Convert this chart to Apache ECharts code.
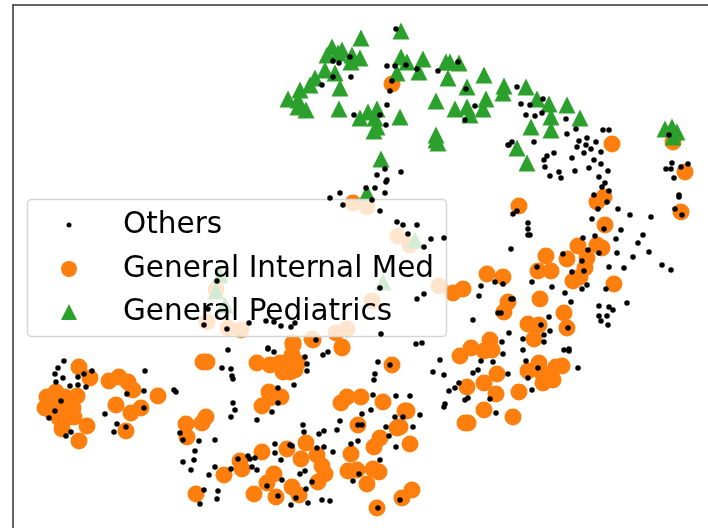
<!DOCTYPE html>
<html>
<head>
<meta charset="utf-8">
<script src="https://cdn.jsdelivr.net/npm/echarts@6/dist/echarts.min.js"></script>
<style>
html, body { margin: 0; padding: 0; background: #fff; }
#chart { width: 708px; height: 528px; }
</style>
</head>
<body>
<div id="chart"></div>
<script>
// values, no tick labels there so units are just embedding x / y
let othersName = 'Others';
let internalName = 'General Internal Med';
let pediatricsName = 'General Pediatrics';

let othersPoints = [
    [64,361],[58,368],[55,374],[63,378],[78,377],[84,374],[92,371],[56,382],[70,386],[78,385],[86,387],[145,371],
    [127,394],[144,391],[174,390],[176,392],[61,401],[55,411],[49,418],[144,408],[105,414],[117,424],[126,427],
    [114,432],[71,432],[66,436],[228,350],[222,368],[231,369],[232,376],[233,379],[233,403],[235,410],[231,417],
    [180,433],[183,440],[199,441],[215,440],[195,451],[194,460],[183,462],[191,470],[209,475],[215,467],[231,469],
    [238,459],[204,490],[218,491],[217,499],[200,504],
    [268,349],[274,352],[305,357],[307,364],[307,371],[323,355],[328,352],[294,385],[278,388],[278,403],[272,412],
    [257,420],[378,362],[390,365],[375,374],[374,380],[373,395],[396,396],[410,396],[371,410],[362,414],[340,421],
    [337,430],[324,431],[319,434],[303,425],[304,432],[358,425],[362,425],[386,427],[395,417],[403,417],[389,436],
    [396,447],[358,441],[351,444],[324,447],[317,448],[333,452],[290,445],[292,446],[275,444],[275,453],[281,460],
    [248,456],[250,459],[255,458],[252,467],[257,470],[305,471],[300,474],[282,480],[312,482],[306,489],[267,486],
    [278,496],[296,498],[291,505],[308,503],[322,500],[330,501],[359,474],[353,481],[380,460],[378,508],[400,500],
    [607,202],[598,209],[618,209],[630,215],[651,217],[675,209],[682,215],[592,219],[604,229],[517,211],[513,214],
    [528,223],[528,229],[528,235],[530,235],[621,230],[643,235],[595,236],[583,238],[616,239],[638,243],[588,250],
    [599,253],[617,253],[649,252],[633,257],[563,254],[582,261],[609,267],[624,268],[662,265],[671,270],[537,267],
    [584,271],[572,272],[511,249],[532,282],[552,287],[587,285],[582,289],[606,289],[565,293],[495,282],[503,284],
    [481,286],[479,296],[424,294],[417,299],[513,299],[511,299],[571,302],[599,306],[609,307],[613,310],[627,303],
    [599,316],[607,316],[601,321],[608,325],[498,313],[501,313],[473,320],[549,317],[541,325],[568,328],[550,331],
    [544,335],[509,333],[523,339],[544,342],[502,342],[416,344],[422,343],[523,350],[564,350],[569,349],[569,351],
    [503,354],[440,360],[481,361],[493,362],[526,361],[478,370],[473,373],[433,372],[444,375],[508,374],[538,368],
    [578,368],[528,378],[459,383],[455,388],[449,391],[532,390],[490,399],[468,398],[465,400],[445,404],[444,407],
    [496,413],[420,415],[413,427],[408,234],[403,225],[417,225],[431,239],[444,238],[424,247],
    [396,29],[333,61],[339,63],[350,57],[387,66],[395,66],[406,65],[417,69],[438,71],[458,62],[333,77],[351,77],
    [322,85],[392,81],[390,91],[466,89],[387,105],[475,106],[465,120],[354,115],[380,115],[386,125],[508,145],
    [385,169],[401,172],[377,175],[387,180],[386,182],[366,188],[375,188],[385,193],[340,193],[330,198],[372,200],
    [517,87],[521,104],[530,105],[543,99],[542,113],[526,115],[535,116],[566,119],[576,129],[567,134],[603,130],
    [609,130],[587,138],[579,141],[596,142],[586,145],[577,147],[591,149],[601,152],[584,153],[534,142],[512,142],
    [509,145],[554,153],[547,156],[544,160],[572,158],[594,160],[601,164],[545,167],[589,168],[575,171],[608,171],
    [559,172],[550,176],[561,178],[599,177],[605,183],[602,187],[609,191],[594,195],[669,135],[672,163],[666,169],
    [671,169],[681,167],[688,164],[674,178],[679,195],[679,197],
    [343,205],[380,211],[397,222],[217,281],[380,288],[208,309],[204,325],[227,329],[249,323],[266,321],[274,322],
    [281,326],[291,327],[295,323],[381,334],[316,340],[268,348]
];

let internalPoints = [
    [79,367],[90,378],[109,381],[119,377],[128,382],[133,390],[158,396],[116,405],[131,413],[141,408],[126,431],
    [87,426],[79,441],[62,429],[47,397],[56,392],[65,397],[77,396],[45,408],[55,405],[67,410],[73,408],[59,418],
    [74,417],[50,400],[60,400],[62,407],[52,412],[66,418],[207,362],[203,362],[186,424],[187,437],[206,417],[202,423],[224,475],[196,494],
    [257,363],[270,365],[280,363],[293,345],[292,355],[290,365],[283,372],[290,372],[295,370],[298,363],[342,348],[313,340],
    [392,365],[269,392],[281,397],[270,398],[262,406],[347,397],[341,403],[361,397],[383,402],[405,411],[358,425],
    [397,428],[380,438],[374,447],[351,454],[348,471],[357,470],[373,469],[379,472],[367,484],[377,508],[402,498],
    [412,490],[306,443],[287,449],[301,459],[317,455],[322,466],[325,474],[318,482],[262,452],[240,461],[242,469],
    [274,474],[267,483],[254,494],[276,497],[292,487],[299,495],[410,444],
    [519,206],[597,202],[605,225],[578,246],[597,245],[602,248],[587,258],[585,268],[580,277],[573,281],[567,259],
    [546,256],[538,271],[551,271],[487,274],[503,277],[463,289],[453,293],[614,284],[540,299],[508,302],[504,312],
    [564,313],[567,328],[528,324],[539,325],[534,339],[490,340],[471,348],[484,351],[492,350],[460,356],[539,363],
    [528,371],[562,366],[556,367],[542,373],[553,380],[543,383],[497,374],[484,383],[467,387],[496,394],[519,392],
    [484,410],[513,417],[468,423],[465,423],[407,411],[400,427],[681,212],
    [392,84],[612,144],[673,142],[685,172],[604,197],[353,203],[367,207],[398,236],[410,245],[439,286],[216,290],
    [372,301],[207,322],[228,328],[241,330],[336,333],[347,329],[293,343],[312,339],[342,347]
];

let pediatricsPoints = [
    [401,31],[361,38],[332,47],[342,50],[327,55],[338,53],[352,55],[360,58],[351,62],[401,57],[407,62],[423,59],
    [446,62],[450,62],[459,63],[397,73],[419,72],[448,78],[484,75],[325,70],[335,73],[315,78],[310,85],[340,88],
    [467,87],[504,86],[503,93],[300,90],[288,99],[298,100],[298,107],[306,110],[339,109],[436,101],[455,109],
    [467,107],[486,99],[483,109],[470,115],[368,112],[377,109],[360,118],[375,118],[400,117],[377,127],[374,131],
    [436,135],[436,140],[438,143],[381,159],[367,193],
    [526,87],[537,99],[549,104],[567,105],[551,117],[531,127],[551,130],[580,118],[517,148],[527,163],[665,129],
    [672,127],[677,132],[673,137],[415,240],[383,282],[220,275],[216,291],[225,305]
];

let chart = echarts.init(document.getElementById('chart'));

// legend box skips the empty part of the icon slot, so left is where the visible symbol starts
function legendFor(name, icon, left, top, height) {
    return {
        data: [{ name: name, icon: icon, itemStyle: { opacity: 1 } }],
        left: left,
        top: top,
        padding: 0,
        itemWidth: 98,
        itemHeight: height,
        symbolKeepAspect: true,
        selectedMode: false,
        z: 20,
        textStyle: {
            color: '#000',
            fontFamily: 'DejaVu Sans',
            fontSize: 29.5,
            padding: [0, 0, 6, 0]
        }
    };
}

let option = {
    animation: false,
    backgroundColor: '#fff',
    grid: { left: 13, top: 5, right: 0, bottom: 0 },
    xAxis: {
        type: 'value', min: 13, max: 708, position: 'top',
        axisLine: { show: true, onZero: false, lineStyle: { color: '#333', width: 1.5 } },
        axisTick: { show: false }, axisLabel: { show: false }, splitLine: { show: false }
    },
    yAxis: {
        type: 'value', min: 5, max: 528, inverse: true,
        axisLine: { show: true, onZero: false, lineStyle: { color: '#333', width: 1.5 } },
        axisTick: { show: false }, axisLabel: { show: false }, splitLine: { show: false }
    },
    legend: [
        legendFor(othersName, 'circle', 66.5, 210, 5),
        legendFor(internalName, 'circle', 61, 254, 16),
        legendFor(pediatricsName, 'path://M0 -1L1 1L-1 1Z', 61, 297, 16)
    ],
    graphic: [{
        type: 'rect',
        z: 10,
        silent: true,
        shape: { x: 27.5, y: 199.5, width: 419, height: 137, r: 4 },
        style: { fill: 'rgba(255,255,255,0.8)', stroke: '#d5d5d5', lineWidth: 1.5 }
    }],
    series: [
        {
            // black dots sit over the legend box in the picture, the others are washed out by it
            name: othersName, type: 'scatter', data: othersPoints, z: 15,
            symbol: 'circle', symbolSize: 5.5, itemStyle: { color: '#000', opacity: 1 }
        },
        {
            name: internalName, type: 'scatter', data: internalPoints, z: 3,
            symbol: 'circle', symbolSize: 17, itemStyle: { color: '#ff7f0e', opacity: 1 }
        },
        {
            name: pediatricsName, type: 'scatter', data: pediatricsPoints, z: 4,
            symbol: 'triangle', symbolSize: 17, itemStyle: { color: '#2ca02c', opacity: 1 }
        }
    ]
};

chart.setOption(option);
</script>
</body>
</html>
